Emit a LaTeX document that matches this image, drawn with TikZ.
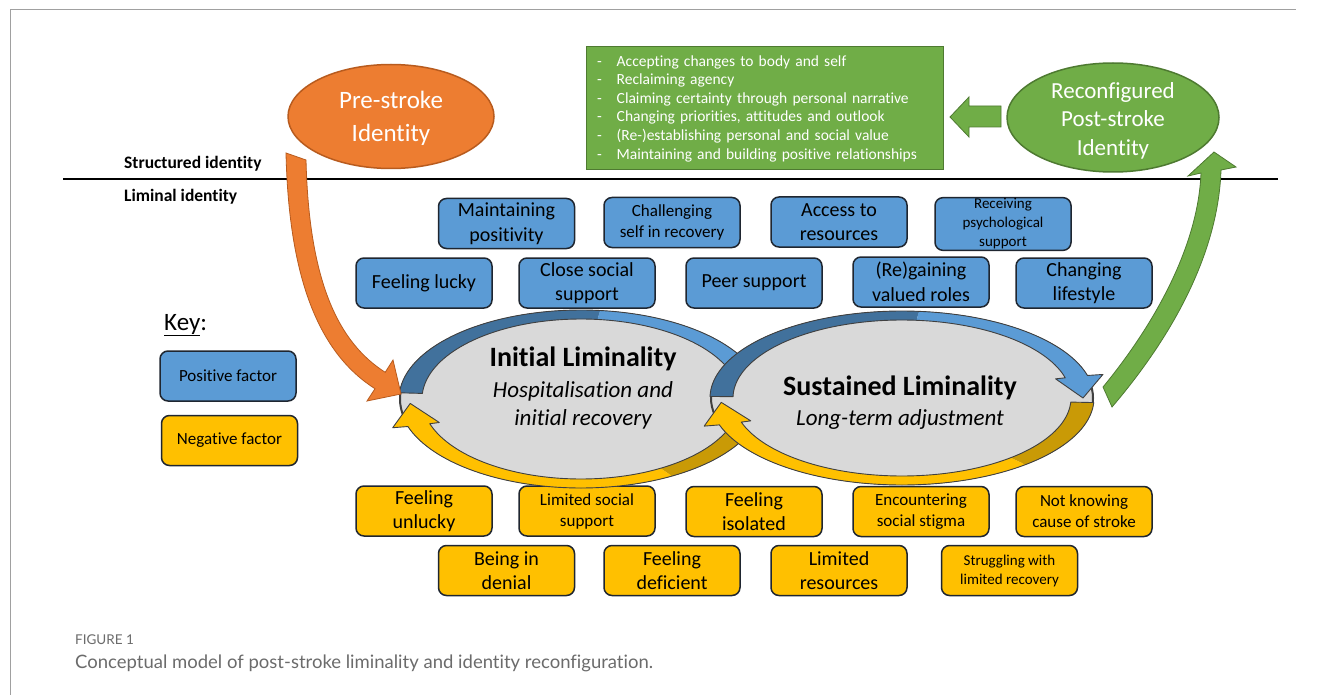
\documentclass[tikz,border=0pt]{standalone}
\usepackage{fontspec}
\setmainfont{Carlito}[Ligatures=NoCommon]
\newfontfamily\capfont{Lato}[Ligatures=NoCommon]
\usetikzlibrary{shapes.geometric}

\definecolor{posfill}{HTML}{5B9BD5}
\definecolor{negfill}{HTML}{FFC000}
\definecolor{boxline}{HTML}{1F2630}
\definecolor{orangefill}{HTML}{ED7D31}
\definecolor{orangeline}{HTML}{B85B1E}
\definecolor{greenfill}{HTML}{70AD47}
\definecolor{greenline}{HTML}{4E7A31}
\definecolor{stagefill}{HTML}{D9D9D9}
\definecolor{stageline}{HTML}{404040}
\definecolor{bluetail}{HTML}{41719C}
\definecolor{bluehead}{HTML}{5B9BD5}
\definecolor{yellowtail}{HTML}{C99A06}
\definecolor{yellowhead}{HTML}{FFC000}
\definecolor{captiongray}{HTML}{6B6B6B}
\definecolor{framegray}{HTML}{A0A0A0}

\newcommand\fs[2]{\fontsize{#1}{#2}\selectfont}

% Curved band hugging an ellipse, with a flat tail and an arrow head.
% #1,#2 centre; #3,#4 radii; #5 tail angle; #6 colour seam angle;
% #7 head base angle; #8 tip angle; #9 colour prefix (blue / yellow)
\newcommand{\stageband}[9]{%
  \fill[#9tail]
    plot[domain=#5:#6,samples=40,variable=\q] ({#1+(#3+1)*cos(\q)},{#2+(#4+1)*sin(\q)})
    -- plot[domain=#6:#5,samples=40,variable=\q] ({#1+(#3-22)*cos(\q)},{#2+(#4-8)*sin(\q)})
    -- cycle;
  \fill[#9head]
    plot[domain=#6:#7,samples=40,variable=\q] ({#1+(#3+1)*cos(\q)},{#2+(#4+1)*sin(\q)})
    -- ({#1+(#3+17)*cos(#7)},{#2+(#4+5)*sin(#7)})
    -- ({#1+(#3-10)*cos(#8)},{#2+(#4-3)*sin(#8)})
    -- ({#1+(#3-32)*cos(#7)},{#2+(#4-12)*sin(#7)})
    -- plot[domain=#7:#6,samples=40,variable=\q] ({#1+(#3-22)*cos(\q)},{#2+(#4-8)*sin(\q)})
    -- cycle;
  \draw[bandedge]
    plot[domain=#5:#7,samples=80,variable=\q] ({#1+(#3+1)*cos(\q)},{#2+(#4+1)*sin(\q)})
    -- ({#1+(#3+17)*cos(#7)},{#2+(#4+5)*sin(#7)})
    -- ({#1+(#3-10)*cos(#8)},{#2+(#4-3)*sin(#8)})
    -- ({#1+(#3-32)*cos(#7)},{#2+(#4-12)*sin(#7)})
    -- plot[domain=#7:#5,samples=80,variable=\q] ({#1+(#3-22)*cos(\q)},{#2+(#4-8)*sin(\q)})
    -- cycle;
}

\tikzset{
  factorbox/.style={rounded corners=8pt, draw=boxline, line width=1.5pt,
    minimum width=136pt, minimum height=50pt, inner sep=1pt, align=center, text=black},
  posbox/.style={factorbox, fill=posfill},
  negbox/.style={factorbox, fill=negfill},
  ftbig/.style={font=\fs{20}{24.5}},
  ftmid/.style={font=\fs{17}{21}},
  ftsmall/.style={font=\fs{15}{19}},
  plaintext/.style={inner sep=0pt, align=center},
  stage/.style={ellipse, draw=stageline, line width=2pt, fill=stagefill, inner sep=0pt},
  identity/.style={ellipse, line width=1.5pt, inner sep=0pt},
  bandedge/.style={draw=stageline, line width=0.9pt, line join=round},
  blockarrow/.style={line width=0.8pt, line join=miter},
}

\begin{document}
\begin{tikzpicture}[x=1pt,y=-1pt]
\useasboundingbox (0,0) rectangle (1322,695);
\fill[white] (0,0) rectangle (1322,695);

% frame
\draw[framegray, line width=1pt] (10,695) -- (10,10) -- (1296,10);

% divider between structured and liminal identity
\coordinate (divL) at (63,179);
\coordinate (divR) at (1278,179);
\draw[black, line width=2.7pt] (divL) -- (divR);
\node[plaintext, anchor=west, font=\bfseries\fs{17.5}{20}] (structured) at (124,163.5) {Structured identity};
\node[plaintext, anchor=west, font=\bfseries\fs{17.5}{20}] (liminal) at (124,196.5) {Liminal identity};

% identities
\node[identity, fill=orangefill, draw=orangeline, minimum width=206pt, minimum height=104pt] (pre) at (391,116.5) {};
\node[plaintext, text=white, font=\fs{25}{33}] (preText) at (391,118.5) {Pre-stroke\\Identity};
\node[identity, fill=greenfill, draw=greenline, minimum width=212pt, minimum height=109pt] (recon) at (1113,117.5) {};
\node[plaintext, text=white, font=\fs{23}{28.5}] (reconText) at (1113,120.5) {Reconfigured\\Post-stroke\\Identity};

% outcomes of reconfiguration
\node[draw=greenline, fill=greenfill, line width=1pt, minimum width=357pt, minimum height=123pt,
      text width=335pt, inner xsep=11pt, inner ysep=0pt, align=left, text=white,
      font=\fs{15.5}{18.6}] (gains) at (764.5,108.5)
  {-\hspace{15pt}Accepting changes to body and self\\
   -\hspace{15pt}Reclaiming agency\\
   -\hspace{15pt}Claiming certainty through personal narrative\\
   -\hspace{15pt}Changing priorities, attitudes and outlook\\
   -\hspace{15pt}(Re-)establishing personal and social value\\
   -\hspace{15pt}Maintaining and building positive relationships};
\draw[blockarrow, fill=greenfill, draw=greenline]
  (1001,106) -- (969,106) -- (969,97) -- (950,117) -- (969,137) -- (969,127) -- (1001,127) -- cycle;

% positive factors
\node[posbox,ftbig]   (maint)  at (506.5,223.5) {Maintaining\\positivity};
\node[posbox,ftmid]   (chall)  at (672,222.5)   {Challenging\\self in recovery};
\node[posbox,ftbig]   (access) at (839,222)     {Access to\\resources};
\node[posbox,ftsmall] (psych)  at (1003,224)    {Receiving\\psychological\\support};
\node[posbox,ftbig]   (lucky)  at (424,283)     {Feeling lucky};
\node[posbox,ftbig]   (close)  at (587,283)     {Close social\\support};
\node[posbox,ftbig]   (peer)   at (754,283)     {Peer support};
\node[posbox,ftbig]   (roles)  at (921,282)     {(Re)gaining\\valued roles};
\node[posbox,ftbig]   (life)   at (1084,283)    {Changing\\lifestyle};

% negative factors
\node[negbox,ftbig]   (unlucky)   at (424,511)    {Feeling\\unlucky};
\node[negbox,ftmid]   (limsoc)    at (587,511)    {Limited social\\support};
\node[negbox,ftbig]   (isol)      at (754,511.5)  {Feeling\\isolated};
\node[negbox,ftmid]   (stigma)    at (921,511.5)  {Encountering\\social stigma};
\node[negbox,ftmid]   (cause)     at (1084,511.5) {Not knowing\\cause of stroke};
\node[negbox,ftbig]   (denial)    at (506.5,570.5) {Being in\\denial};
\node[negbox,ftbig]   (deficient) at (672,570.5)   {Feeling\\deficient};
\node[negbox,ftbig]   (limres)    at (839,570.5)   {Limited\\resources};
\node[negbox,ftsmall] (struggle)  at (1009.5,570.5) {Struggling with\\limited recovery};

% key
\node[plaintext, anchor=west, font=\fs{25}{30}] (key) at (164,325) {\underline{Key}:};
\node[posbox, font=\fs{17}{21}] (keypos) at (228,376)   {Positive factor};
\node[negbox, font=\fs{17}{21}] (keyneg) at (229.5,440.5) {Negative factor};

% initial liminality
\node[stage, minimum width=362pt, minimum height=176pt] (init) at (581,399) {};
\node[plaintext, font=\bfseries\fs{28}{33}] (initTitle) at (583,359) {Initial Liminality};
\node[plaintext, font=\itshape\fs{23}{28}] (initSub) at (583,405) {Hospitalisation and\\initial recovery};
\stageband{581}{399}{181}{88}{3}{60}{162}{177}{yellow}
\stageband{581}{399}{181}{88}{184}{276}{345}{360}{blue}

% sustained liminality
\node[stage, minimum width=382pt, minimum height=172pt] (sust) at (902,398) {};
\node[plaintext, font=\bfseries\fs{28}{33}] (sustTitle) at (900,388) {Sustained Liminality};
\node[plaintext, font=\itshape\fs{23}{28}] (sustSub) at (900,419) {Long-term adjustment};
\stageband{902}{398}{191}{86}{3}{50}{162}{177}{yellow}
\stageband{902}{398}{191}{86}{181}{275}{345}{360}{blue}

% transitions into and out of liminality
\draw[blockarrow, fill=orangefill, draw=orangeline]
  (286,153) .. controls (289,285) and (322,355) .. (375,388.7)
  -- (367,401) -- (401,394) -- (393,360) -- (385.2,372.3)
  .. controls (340,343.5) and (309,285) .. (306,160) -- cycle;
\draw[blockarrow, fill=greenfill, draw=greenline]
  (1103,387) .. controls (1150,330) and (1198,250) .. (1201,173)
  -- (1188,176) -- (1214,152) -- (1236,167) -- (1221,170)
  .. controls (1218,260) and (1165,345) .. (1112,407) -- cycle;

% caption
\node[plaintext, anchor=west, text=captiongray, font=\capfont\fs{13.5}{15}] (figno) at (75,640) {FIGURE 1};
\node[plaintext, anchor=west, text=captiongray, font=\capfont\fs{18.5}{21}] (caption) at (75,663)
  {Conceptual model of post-stroke liminality and identity reconfiguration.};
\end{tikzpicture}
\end{document}
